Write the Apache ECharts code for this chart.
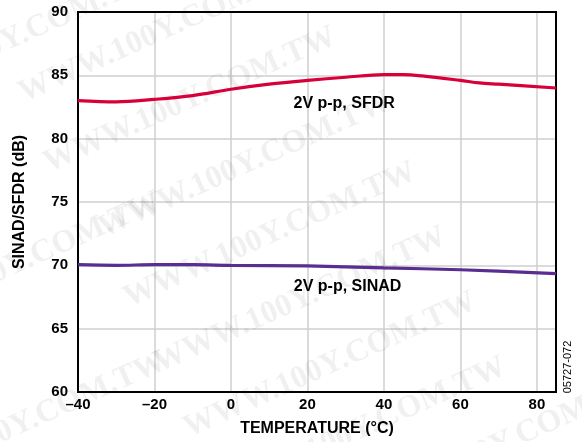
<!DOCTYPE html>
<html>
<head>
<meta charset="utf-8">
<script src="https://cdn.jsdelivr.net/npm/echarts@6/dist/echarts.min.js"></script>
<style>
html,body{margin:0;padding:0;background:#fff;}
#chart{width:582px;height:442px;}
</style>
</head>
<body>
<div id="chart"></div>
<script>
// Temperature sweep (°C) and measured dynamic performance (dB)
var sfdrTemp = [-40, -30, -20, -10, 0, 10, 20, 30, 40, 45, 50, 60, 65, 70, 85];
var sfdrValues = [83.0, 82.9, 83.1, 83.4, 83.9, 84.3, 84.6, 84.85, 85.05, 85.05, 84.95, 84.6, 84.4, 84.3, 84.0];
var sinadTemp = [-40, -30, -20, -10, 0, 20, 40, 60, 85];
var sinadValues = [70.05, 70.0, 70.05, 70.05, 70.0, 69.95, 69.8, 69.65, 69.35];
var xTicks = [-40, -20, 0, 20, 40, 60, 80];
var yTicks = [60, 65, 70, 75, 80, 85, 90];

var labelFont = '"Liberation Sans", Arial, sans-serif';

function pairs(xs, ys) {
  return xs.map(function (x, i) { return [x, ys[i]]; });
}

var chart = echarts.init(document.getElementById('chart'), null, {renderer: 'canvas'});

// Faint diagonal site watermark repeated across the figure
var marks = [
  [165, 30], [190, 100], [245, 165], [270, 235], [300, 300], [330, 365], [360, 430],
  [10, 40], [15, 265], [20, 425], [500, 445]
];
var wm = marks.map(function (p) {
  return {
    type: 'text', x: p[0], y: p[1], rotation: 0.42, z: 0, silent: true,
    style: {
      text: 'WWW.100Y.COM.TW', fill: 'rgba(0,0,0,0.06)',
      font: 'bold 32px "Liberation Serif", "DejaVu Serif", serif',
      align: 'center', verticalAlign: 'middle'
    }
  };
});

chart.setOption({
  animation: false,
  backgroundColor: '#fff',
  grid: {left: 78, right: 26, top: 12, bottom: 49, show: true, borderColor: '#000', borderWidth: 2, backgroundColor: 'transparent', z: 3},
  xAxis: {
    type: 'value', min: -40, max: 85, interval: 20,
    name: 'TEMPERATURE (°C)', nameLocation: 'middle', nameGap: 29,
    nameTextStyle: {fontFamily: labelFont, fontWeight: 'bold', fontSize: 16, color: '#000'},
    axisLine: {show: false}, axisTick: {show: false},
    axisLabel: {
      showMaxLabel: false, margin: 5, color: '#000', fontFamily: labelFont, fontWeight: 'bold', fontSize: 15,
      formatter: function (v) { return xTicks.indexOf(v) >= 0 ? String(v).replace('-', '\u2013') : ''; }
    },
    splitLine: {show: true, lineStyle: {color: '#cfcfcf', width: 1.5}}
  },
  yAxis: {
    type: 'value', min: 60, max: 90, interval: 5,
    name: 'SINAD/SFDR (dB)', nameLocation: 'middle', nameGap: 50,
    nameTextStyle: {fontFamily: labelFont, fontWeight: 'bold', fontSize: 16, color: '#000'},
    axisLine: {show: false}, axisTick: {show: false},
    axisLabel: {
      margin: 10, color: '#000', fontFamily: labelFont, fontWeight: 'bold', fontSize: 15,
      formatter: function (v) { return yTicks.indexOf(v) >= 0 ? String(v) : ''; }
    },
    splitLine: {show: true, lineStyle: {color: '#cfcfcf', width: 1.5}}
  },
  series: [
    {
      name: 'SFDR', type: 'line', data: pairs(sfdrTemp, sfdrValues), smooth: 0.35,
      showSymbol: false, lineStyle: {color: '#d8003a', width: 3.2}, z: 4
    },
    {
      name: 'SINAD', type: 'line', data: pairs(sinadTemp, sinadValues), smooth: 0.35,
      showSymbol: false, lineStyle: {color: '#5a2e91', width: 3.2}, z: 4
    }
  ]
});

// Curve annotations placed in data coordinates
var sfdrLabelPos = chart.convertToPixel({gridIndex: 0}, [29.6, 82.73]);
var sinadLabelPos = chart.convertToPixel({gridIndex: 0}, [30.5, 68.3]);

chart.setOption({
  graphic: wm.concat([
    {
      type: 'text', x: sfdrLabelPos[0], y: sfdrLabelPos[1], z: 10,
      style: {text: '2V p-p, SFDR', fill: '#000', font: 'bold 16px ' + labelFont, align: 'center', verticalAlign: 'middle'}
    },
    {
      type: 'text', x: sinadLabelPos[0], y: sinadLabelPos[1], z: 10,
      style: {text: '2V p-p, SINAD', fill: '#000', font: 'bold 16px ' + labelFont, align: 'center', verticalAlign: 'middle'}
    },
    {
      type: 'text', x: 568, y: 367, rotation: Math.PI / 2, z: 10,
      style: {text: '05727-072', fill: '#000', font: '11px ' + labelFont, align: 'center', verticalAlign: 'middle'}
    }
  ])
});
</script>
</body>
</html>
